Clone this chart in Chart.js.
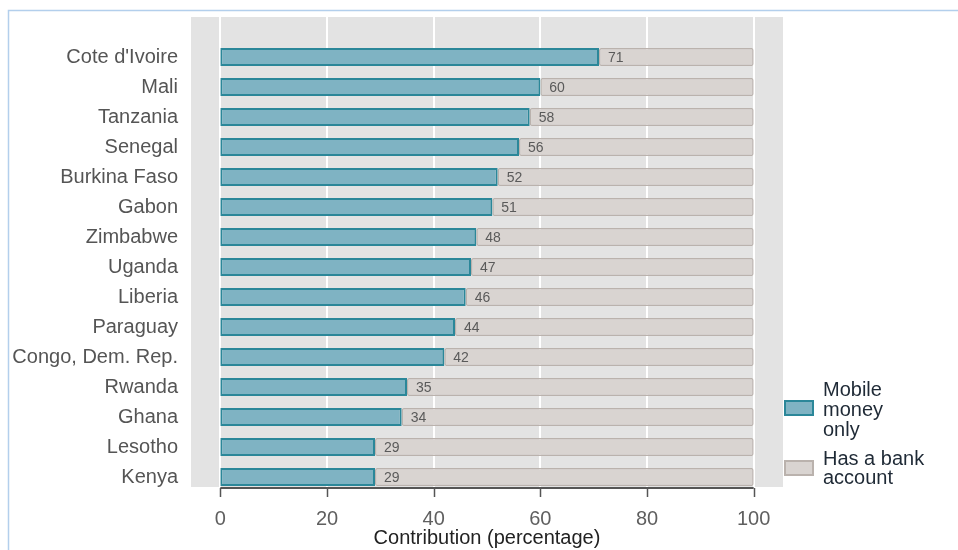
<!DOCTYPE html>
<html>
<head>
<meta charset="utf-8">
<script src="https://cdn.jsdelivr.net/npm/chart.js@4"></script>
<style>
  html, body { margin: 0; padding: 0; background: #ffffff; }
  canvas { display: block; }
</style>
</head>
<body>
<canvas id="c" width="958" height="550"></canvas>
<script>
// ---- data ----
const countries = ["Cote d'Ivoire", "Mali", "Tanzania", "Senegal", "Burkina Faso", "Gabon", "Zimbabwe", "Uganda", "Liberia", "Paraguay", "Congo, Dem. Rep.", "Rwanda", "Ghana", "Lesotho", "Kenya"];
const mobileMoneyOnly = [71, 60, 58, 56, 52, 51, 48, 47, 46, 44, 42, 35, 34, 29, 29];
const hasBankAccount = [29, 40, 42, 44, 48, 49, 52, 53, 54, 56, 58, 65, 66, 71, 71];
const xTicks = [0, 20, 40, 60, 80, 100];
const seriesNames = ["Mobile money only", "Has a bank account"];
const legendLines = [["Mobile", "money", "only"], ["Has a bank", "account"]];
const axisTitle = "Contribution (percentage)";

const FONT = "'Liberation Sans', Arial, sans-serif";
const TEAL_FILL = "#7fb3c3";
const TEAL_EDGE = "#2b8799";
const GREY_FILL = "#d9d4d1";
const GREY_EDGE = "#bab2ad";
const PANEL = "#e3e3e3";

const decor = {
  id: 'decor',
  beforeDraw(chart) {
    const ctx = chart.ctx;
    ctx.save();
    ctx.fillStyle = '#ffffff';
    ctx.fillRect(0, 0, chart.width, chart.height);
    // outer frame (top & left visible)
    ctx.strokeStyle = '#b3cfec';
    ctx.lineWidth = 1.5;
    ctx.beginPath();
    ctx.moveTo(8.5, chart.height);
    ctx.lineTo(8.5, 10.5);
    ctx.lineTo(chart.width, 10.5);
    ctx.stroke();
    ctx.restore();
  },
  beforeDatasetsDraw(chart) {
    const ctx = chart.ctx;
    const a = chart.chartArea;
    const xs = chart.scales.x;
    const top = a.top - 25, bottom = a.bottom - 5;
    ctx.save();
    ctx.fillStyle = PANEL;
    ctx.fillRect(a.left, top, a.right - a.left, bottom - top);
    ctx.strokeStyle = '#ffffff';
    ctx.lineWidth = 2;
    xTicks.forEach(v => {
      const px = Math.round(xs.getPixelForValue(v));
      ctx.beginPath();
      ctx.moveTo(px, top);
      ctx.lineTo(px, bottom);
      ctx.stroke();
    });
    // axis line with ticks
    const ay = bottom + 1;
    ctx.strokeStyle = '#555555';
    ctx.lineWidth = 2;
    ctx.beginPath();
    ctx.moveTo(xs.getPixelForValue(xTicks[0]), ay);
    ctx.lineTo(xs.getPixelForValue(xTicks[xTicks.length - 1]), ay);
    ctx.stroke();
    ctx.lineWidth = 1.5;
    xTicks.forEach(v => {
      const px = Math.round(xs.getPixelForValue(v)) + 0.5;
      ctx.beginPath();
      ctx.moveTo(px, ay);
      ctx.lineTo(px, ay + 9);
      ctx.stroke();
    });
    ctx.restore();
  },
  afterDatasetsDraw(chart) {
    const ctx = chart.ctx;
    const meta = chart.getDatasetMeta(0);
    ctx.save();
    ctx.font = "14px " + FONT;
    ctx.fillStyle = '#5a5a5a';
    ctx.textAlign = 'left';
    ctx.textBaseline = 'middle';
    meta.data.forEach((bar, i) => {
      ctx.fillText(String(mobileMoneyOnly[i]), bar.x + 9, bar.y + 1);
    });
    // legend
    const a = chart.chartArea;
    const bx = a.right + 2;
    const fills = [TEAL_FILL, GREY_FILL];
    const edges = [TEAL_EDGE, GREY_EDGE];
    const boxY = [401, 461];
    const textY = [[390, 410, 430], [459, 478]];
    ctx.font = "20px " + FONT;
    ctx.fillStyle = '#1f2a36';
    legendLines.forEach((lines, k) => {
      ctx.fillStyle = fills[k];
      ctx.strokeStyle = edges[k];
      ctx.lineWidth = 2;
      ctx.fillRect(bx, boxY[k], 28, 14);
      ctx.strokeRect(bx, boxY[k], 28, 14);
      ctx.fillStyle = '#1f2a36';
      lines.forEach((t, j) => ctx.fillText(t, 823, textY[k][j]));
    });
    ctx.restore();
  }
};

new Chart(document.getElementById('c'), {
  type: 'bar',
  data: {
    labels: countries,
    datasets: [
      {
        label: seriesNames[0],
        data: mobileMoneyOnly,
        backgroundColor: TEAL_FILL,
        borderColor: TEAL_EDGE,
        borderWidth: 2,
        borderSkipped: false,
        borderRadius: 2,
        barPercentage: 0.6,
        categoryPercentage: 1.0
      },
      {
        label: seriesNames[1],
        data: hasBankAccount,
        backgroundColor: GREY_FILL,
        borderColor: GREY_EDGE,
        borderWidth: 1.5,
        borderSkipped: false,
        borderRadius: 2,
        barPercentage: 0.6,
        categoryPercentage: 1.0
      }
    ]
  },
  options: {
    indexAxis: 'y',
    responsive: false,
    animation: false,
    layout: { padding: { top: 42, right: 175, bottom: 0, left: 0 } },
    plugins: {
      legend: { display: false },
      title: { display: false },
      tooltip: { enabled: false }
    },
    scales: {
      x: {
        type: 'linear',
        stacked: true,
        min: -5.5,
        max: 105.5,
        grid: { display: false },
        border: { display: false },
        afterBuildTicks(scale) { scale.ticks = xTicks.map(v => ({ value: v })); },
        afterFit(scale) { scale.height = 58; },
        ticks: {
          padding: 7,
          color: '#5f5f5f',
          font: { family: FONT, size: 20 },
          autoSkip: false,
          maxRotation: 0,
          callback: (v) => String(v)
        },
        title: {
          display: true,
          text: axisTitle,
          color: '#222222',
          font: { family: FONT, size: 20 },
          padding: { top: 0, bottom: 0 }
        }
      },
      y: {
        type: 'category',
        stacked: true,
        offset: true,
        grid: { display: false },
        border: { display: false },
        afterFit(scale) { scale.width = 191; },
        ticks: {
          padding: 5,
          color: '#555555',
          font: { family: FONT, size: 20 },
          autoSkip: false
        }
      }
    }
  },
  plugins: [decor]
});
</script>
</body>
</html>
